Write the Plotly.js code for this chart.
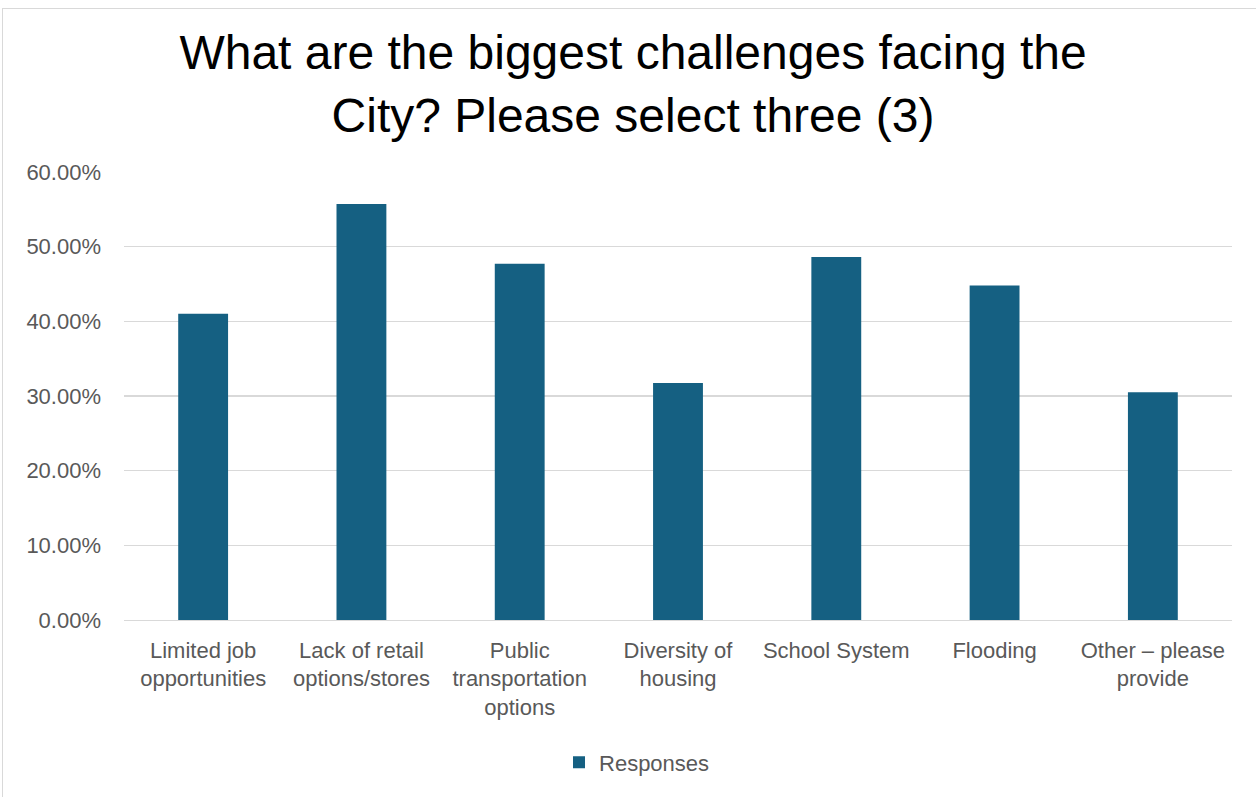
<!DOCTYPE html>
<html>
<head>
<meta charset="utf-8">
<script src="https://cdn.plot.ly/plotly-3.0.1.min.js"></script>
<style>
  html, body { margin: 0; padding: 0; background: #ffffff; overflow: hidden; }
  #frame { position: absolute; left: 2px; top: 8px; width: 1400px; height: 900px; border: 1px solid #d9d9d9; box-sizing: border-box; pointer-events: none; }
  #chart { position: absolute; left: 0; top: 0; width: 1256px; height: 797px; }
</style>
</head>
<body>
<div id="chart"></div>
<div id="frame"></div>
<script>
const categories = [
  "Limited job<br>opportunities",
  "Lack of retail<br>options/stores",
  "Public<br>transportation<br>options",
  "Diversity of<br>housing",
  "School System",
  "Flooding",
  "Other – please<br>provide"
];
const responses = [0.410, 0.557, 0.477, 0.3175, 0.486, 0.448, 0.305];
const seriesName = "Responses";
const chartTitle = "What are the biggest challenges facing the<br>City? Please select three (3)";
const yTicks = [0, 0.1, 0.2, 0.3, 0.4, 0.5, 0.6];

const trace = {
  type: "bar",
  x: categories,
  y: responses,
  name: seriesName,
  marker: { color: "#156082" },
  showlegend: true,
  hoverinfo: "x+y"
};

const layout = {
  width: 1256,
  height: 797,
  paper_bgcolor: "#ffffff",
  plot_bgcolor: "#ffffff",
  margin: { l: 124, r: 24, t: 172, b: 176.5, pad: 0, autoexpand: false },
  bargap: 0.685,
  title: {
    text: chartTitle,
    font: { family: "Liberation Sans, Arial, sans-serif", size: 48, color: "#000000" },
    x: 0.504,
    xanchor: "center",
    xref: "container",
    y: 0.913,
    yref: "container",
    yanchor: "top"
  },
  xaxis: {
    type: "category",
    showgrid: false,
    showline: true,
    linecolor: "#d9d9d9",
    linewidth: 1.3,
    ticks: "",
    tickangle: 0,
    automargin: false,
    tickfont: { family: "Liberation Sans, Arial, sans-serif", size: 22, color: "#595959" },
    ticklabelstandoff: 10,
    fixedrange: true
  },
  yaxis: {
    range: [0, 0.6],
    tickvals: yTicks,
    tickformat: ".2%",
    showgrid: true,
    gridcolor: "#d9d9d9",
    gridwidth: 1.3,
    zeroline: false,
    showline: false,
    ticks: "",
    automargin: false,
    ticklabelstandoff: 22,
    tickfont: { family: "Liberation Sans, Arial, sans-serif", size: 22, color: "#595959" },
    fixedrange: true
  },
  legend: {
    orientation: "h",
    x: 0.463,
    xanchor: "center",
    y: -0.318,
    yanchor: "middle",
    font: { family: "Liberation Sans, Arial, sans-serif", size: 22, color: "#595959" },
    itemwidth: 30
  },
  showlegend: true
};

Plotly.newPlot("chart", [trace], layout, { displayModeBar: false, staticPlot: true });
</script>
</body>
</html>
